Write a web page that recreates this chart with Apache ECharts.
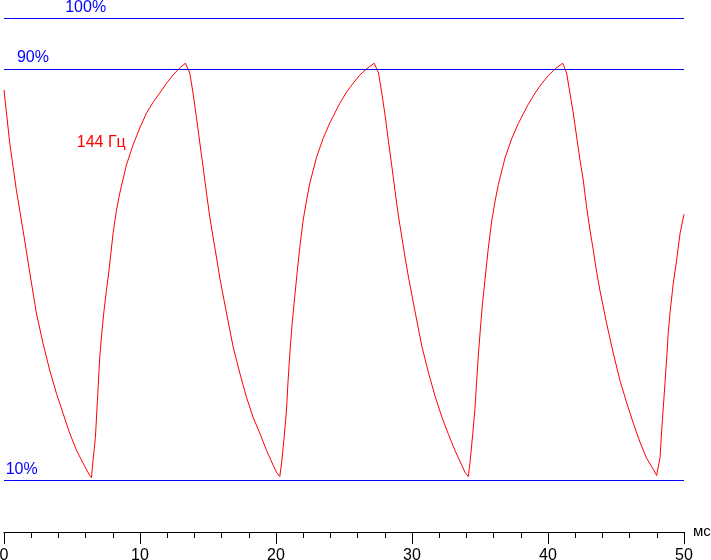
<!DOCTYPE html>
<html>
<head>
<meta charset="utf-8">
<script src="https://cdn.jsdelivr.net/npm/echarts@6/dist/echarts.min.js"></script>
<style>
html,body{margin:0;padding:0;background:#fff;}
#chart{width:711px;height:560px;}
</style>
</head>
<body>
<div id="chart"></div>
<script>
// x: time, ms ; y: brightness level, %
const refLevels = [100, 90, 10];
const refLabels = ['100%', '90%', '10%'];
const seriesName = '144 Гц';
const xUnit = 'мс';

const fall0 = [[0,86.0],[0.42,75.7],[0.91,66.5],[1.40,58.7],[1.96,49.4],[2.38,42.6],[2.87,36.7],[3.36,31.5],[3.85,27.0],[4.34,23.1],[4.83,19.2],[5.33,15.9],[5.81,13.4],[6.30,11.0],[6.43,10.6]];
const rise1 = [[6.55,14.0],[6.72,18.4],[6.87,25.6],[7.04,34.0],[7.21,39.3],[7.36,43.2],[7.53,47.0],[7.70,50.4],[8.02,58.1],[8.27,62.6],[8.51,65.9],[9.00,71.4],[9.49,75.3],[9.98,78.6],[10.48,81.5],[10.96,83.6],[11.45,85.4],[11.95,87.3],[12.43,88.9],[12.92,90.3],[13.34,91.2]];
const fall1 = [[13.66,89.3],[13.90,85.4],[14.15,80.7],[14.40,75.7],[14.64,71.0],[14.89,65.9],[15.13,61.3],[15.37,57.4],[15.62,53.5],[15.87,49.4],[16.36,42.6],[16.85,36.0],[17.34,30.9],[17.83,26.2],[18.32,22.3],[18.81,19.2],[19.30,15.9],[19.79,13.0],[20.04,11.6],[20.28,10.8]];
const rise2 = [[20.41,13.4],[20.60,18.4],[20.77,23.7],[20.89,29.5],[21.02,34.8],[21.19,40.6],[21.33,44.5],[21.55,50.4],[21.75,55.4],[22.00,60.7],[22.25,64.6],[22.49,67.9],[22.98,72.9],[23.47,76.6],[23.96,79.6],[24.69,83.4],[25.19,85.6],[25.67,87.3],[26.16,88.9],[26.66,90.1],[27.22,91.2]];
const fall2 = [[27.54,89.3],[27.78,85.4],[28.03,80.9],[28.27,76.0],[28.51,71.3],[28.76,66.2],[29.00,61.5],[29.24,57.6],[29.49,53.4],[29.74,49.6],[30.23,42.8],[30.72,36.2],[31.21,31.0],[31.70,26.4],[32.19,22.4],[32.68,19.0],[33.17,15.8],[33.66,13.0],[33.90,11.6],[34.14,10.8]];
const rise3 = [[34.27,13.6],[34.46,18.9],[34.63,24.0],[34.75,29.2],[34.88,34.5],[35.05,40.3],[35.19,44.6],[35.41,50.2],[35.61,55.2],[35.86,60.5],[36.11,64.4],[36.35,67.6],[36.84,72.8],[37.33,76.5],[37.82,79.5],[38.55,83.2],[39.05,85.4],[39.53,87.2],[40.02,88.8],[40.52,90.1],[41.08,91.2]];
const fall3 = [[41.37,89.3],[41.61,85.4],[41.86,81.5],[42.11,76.8],[42.35,72.4],[42.59,68.5],[42.84,63.2],[43.09,58.7],[43.33,54.8],[43.58,50.5],[43.82,47.0],[44.31,40.6],[44.80,34.8],[45.29,29.5],[45.79,25.1],[46.27,21.2],[46.76,17.5],[47.26,14.3],[47.74,12.2],[47.99,11.0],[48.11,10.8]];
const rise4 = [[48.24,14.5],[48.36,19.8],[48.48,24.3],[48.60,28.9],[48.73,34.0],[48.84,38.7],[48.97,42.6],[49.21,48.4],[49.46,52.9],[49.71,58.1],[50.00,61.8]];

const curve = [].concat(fall0, rise1, fall1, rise2, fall2, rise3, fall3, rise4);

const FONT = '"Liberation Sans", Arial, sans-serif';
const chart = echarts.init(document.getElementById('chart'), null, {renderer: 'canvas'});

const option = {
  animation: false,
  backgroundColor: '#ffffff',
  grid: {left: 4, right: 27, top: 18, bottom: 28, containLabel: false, outerBoundsMode: 'none'},
  xAxis: [
    {
      type: 'value', min: 0, max: 50, interval: 10,
      position: 'bottom',
      name: xUnit, nameLocation: 'end', nameGap: 9,
      nameTextStyle: {color: '#000', fontSize: 15, fontFamily: FONT, verticalAlign: 'middle', padding: [10,0,0,0]},
      axisLine: {show: true, lineStyle: {color: '#000', width: 1}},
      axisTick: {show: true, length: 12, lineStyle: {color: '#000', width: 1}},
      axisLabel: {show: true, color: '#000', fontSize: 16, fontFamily: FONT, margin: 16, hideOverlap: false},
      splitLine: {show: false}
    },
    {
      type: 'value', min: 0, max: 50, interval: 2,
      position: 'bottom', gridIndex: 0,
      axisLine: {show: false},
      axisTick: {show: true, length: 6, lineStyle: {color: '#000', width: 1}},
      axisLabel: {show: false},
      splitLine: {show: false}
    }
  ],
  yAxis: {type: 'value', min: 0, max: 100, show: false, splitLine: {show: false}},
  series: [
    {
      name: seriesName,
      type: 'line',
      xAxisIndex: 0,
      data: curve,
      showSymbol: false,
      symbol: 'none',
      lineStyle: {color: '#ff0000', width: 1},
      markLine: {
        silent: true,
        symbol: 'none',
        label: {show: false},
        lineStyle: {color: '#0000ff', width: 1, type: 'solid'},
        data: refLevels.map(v => ({yAxis: v}))
      }
    }
  ]
};
chart.setOption(option);

// text labels placed relative to data coordinates
function px(x, y) { return chart.convertToPixel({xAxisIndex: 0, yAxisIndex: 0}, [x, y]); }
const labelDefs = [
  {text: refLabels[0], at: [4.5, refLevels[0]], dy: -10, color: '#0000ff'},
  {text: refLabels[1], at: [0.95, refLevels[1]], dy: -12, color: '#0000ff'},
  {text: refLabels[2], at: [0.12, refLevels[2]], dy: -11, color: '#0000ff'},
  {text: seriesName, at: [5.35, 76.0], dy: 1, color: '#ff0000'}
];
chart.setOption({
  graphic: labelDefs.map(d => {
    const p = px(d.at[0], d.at[1]);
    return {
      type: 'text', x: p[0], y: p[1] + d.dy, silent: true,
      style: {text: d.text, fill: d.color, font: '16px ' + FONT, textAlign: 'left', textVerticalAlign: 'middle'}
    };
  })
});
</script>
</body>
</html>
